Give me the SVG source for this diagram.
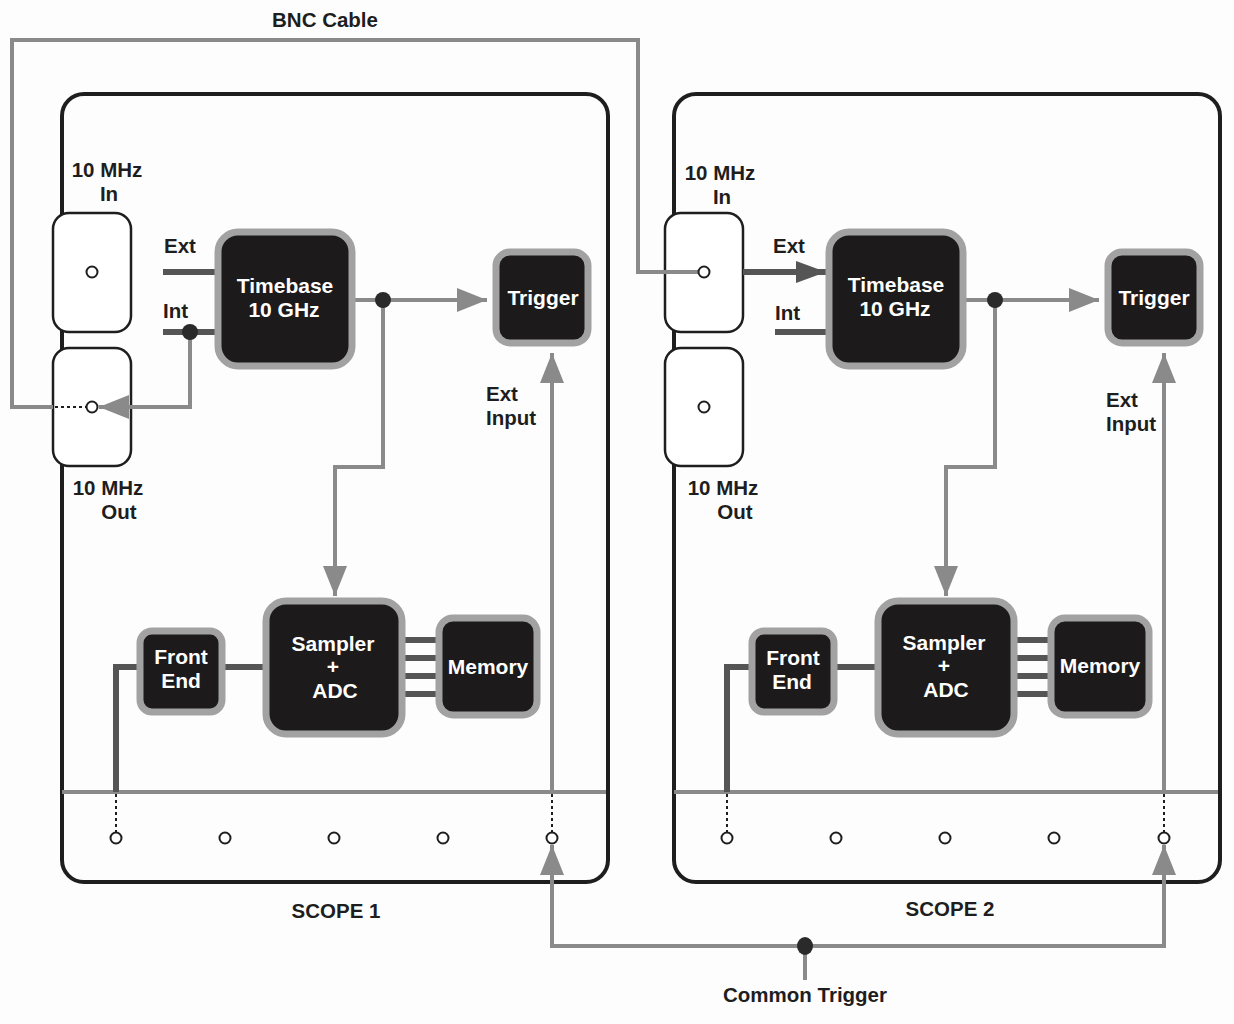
<svg xmlns="http://www.w3.org/2000/svg" width="1234" height="1024" viewBox="0 0 1234 1024">
<style>
.panel{fill:none;stroke:#1e1e1e;stroke-width:4}
.div{stroke:#8a8a8a;stroke-width:4}
.conn{fill:#fff;stroke:#1e1e1e;stroke-width:2.5}
.port{fill:#fff;stroke:#1e1e1e;stroke-width:2}
.blk{fill:#1c1a1b;stroke:#a2a2a2;stroke-width:7}
.g{fill:none;stroke:#8a8a8a;stroke-width:4}
.d{fill:none;stroke:#555;stroke-width:6}
.dot{fill:none;stroke:#1e1e1e;stroke-width:2;stroke-dasharray:3 3}
.lbl{font-family:"Liberation Sans",Arial,sans-serif;font-weight:bold;font-size:20.5px;fill:#1e1e1e}
.wt{font-family:"Liberation Sans",Arial,sans-serif;font-weight:bold;font-size:21px;fill:#fff;text-anchor:middle}
.jn{fill:#2a2a2a}
</style>
<defs>
<marker id="ag" markerUnits="userSpaceOnUse" markerWidth="32" markerHeight="24" refX="30" refY="12" orient="auto"><path d="M0,0 L30,12 L0,24 Z" fill="#8a8a8a"/></marker>
<marker id="ad" markerUnits="userSpaceOnUse" markerWidth="32" markerHeight="24" refX="30" refY="12" orient="auto"><path d="M0,1 L30,12 L0,23 Z" fill="#555"/></marker>
</defs>
<rect width="1234" height="1024" fill="#fdfdfd"/>

<g id="scope1-panel">
<rect class="panel" x="62" y="94" width="546" height="788" rx="22"/>
<line class="div" x1="62" y1="792" x2="606" y2="792"/>
<text class="lbl" x="336" y="918" text-anchor="middle">SCOPE 1</text>
</g>
<g id="scope2-panel">
<rect class="panel" x="674" y="94" width="546" height="788" rx="22"/>
<line class="div" x1="674" y1="792" x2="1218" y2="792"/>
<text class="lbl" x="950" y="916" text-anchor="middle">SCOPE 2</text>
</g>

<g id="scope1-10mhz-in">
<rect class="conn" x="53" y="213" width="78" height="119" rx="16"/>
<text class="lbl" x="107" y="177" text-anchor="middle">10 MHz</text>
<text class="lbl" x="109" y="201" text-anchor="middle">In</text>
</g>
<g id="scope1-10mhz-out">
<rect class="conn" x="53" y="348" width="78" height="118" rx="16"/>
<text class="lbl" x="108" y="495" text-anchor="middle">10 MHz</text>
<text class="lbl" x="119" y="519" text-anchor="middle">Out</text>
</g>
<g id="scope2-10mhz-in">
<rect class="conn" x="665" y="213" width="78" height="119" rx="16"/>
<text class="lbl" x="720" y="180" text-anchor="middle">10 MHz</text>
<text class="lbl" x="722" y="204" text-anchor="middle">In</text>
</g>
<g id="scope2-10mhz-out">
<rect class="conn" x="665" y="348" width="78" height="118" rx="16"/>
<text class="lbl" x="723" y="495" text-anchor="middle">10 MHz</text>
<text class="lbl" x="735" y="519" text-anchor="middle">Out</text>
</g>

<g id="connectors">
<!-- BNC cable -->
<polyline class="g" points="53,407 12,407 12,40 638,40 638,272 699,272"/>
<line class="dot" x1="55" y1="407" x2="86" y2="407"/>
<!-- scope1 timebase to trigger -->
<line class="g" x1="355" y1="300" x2="487" y2="300" marker-end="url(#ag)"/>
<polyline class="g" points="383,300 383,467 335,467 335,596" marker-end="url(#ag)"/>
<!-- scope1 int to 10MHz out -->
<polyline class="g" points="190,332 190,407 99,407" marker-end="url(#ag)"/>
<!-- scope1 ext/int -->
<line class="d" x1="163" y1="272" x2="215" y2="272"/>
<line class="d" x1="163" y1="332" x2="215" y2="332"/>
<!-- scope1 front end path -->
<polyline class="d" points="116,792 116,667 137,667"/>
<line class="d" x1="225" y1="667" x2="263" y2="667"/>
<line class="d" x1="405" y1="640" x2="436" y2="640"/>
<line class="d" x1="405" y1="658" x2="436" y2="658"/>
<line class="d" x1="405" y1="676" x2="436" y2="676"/>
<line class="d" x1="405" y1="694" x2="436" y2="694"/>
<line class="dot" x1="116" y1="794" x2="116" y2="832"/>
<!-- scope1 ext input -->
<line class="g" x1="552" y1="792" x2="552" y2="353" marker-end="url(#ag)"/>
<line class="dot" x1="552" y1="794" x2="552" y2="832"/>

<!-- scope2 -->
<line class="d" x1="743" y1="272" x2="826" y2="272" marker-end="url(#ad)"/>
<line class="d" x1="775" y1="332" x2="826" y2="332"/>
<line class="g" x1="966" y1="300" x2="1099" y2="300" marker-end="url(#ag)"/>
<polyline class="g" points="995,300 995,467 946,467 946,596" marker-end="url(#ag)"/>
<polyline class="d" points="727,792 727,667 749,667"/>
<line class="d" x1="837" y1="667" x2="875" y2="667"/>
<line class="d" x1="1017" y1="640" x2="1048" y2="640"/>
<line class="d" x1="1017" y1="658" x2="1048" y2="658"/>
<line class="d" x1="1017" y1="676" x2="1048" y2="676"/>
<line class="d" x1="1017" y1="694" x2="1048" y2="694"/>
<line class="dot" x1="727" y1="794" x2="727" y2="832"/>
<line class="g" x1="1164" y1="792" x2="1164" y2="353" marker-end="url(#ag)"/>
<line class="dot" x1="1164" y1="794" x2="1164" y2="832"/>

<!-- common trigger -->
<polyline class="g" points="805,980 805,946"/>
<polyline class="g" points="552,846 552,946 1164,946 1164,846"/>
<line class="g" x1="552" y1="946" x2="552" y2="845" marker-end="url(#ag)"/>
<line class="g" x1="1164" y1="946" x2="1164" y2="845" marker-end="url(#ag)"/>
<circle class="jn" cx="383" cy="300" r="8"/>
<circle class="jn" cx="190" cy="332" r="8"/>
<circle class="jn" cx="995" cy="300" r="8"/>
<ellipse class="jn" cx="805" cy="946" rx="8" ry="9"/>
</g>

<g id="bnc-ports">
<circle class="port" cx="92" cy="272" r="5.5"/>
<circle class="port" cx="92" cy="407" r="5.5"/>
<circle class="port" cx="704" cy="272" r="5.5" style="fill:none"/>
<circle class="port" cx="704" cy="407" r="5.5"/>
</g>

<g id="scope1-labels">
<text class="lbl" x="164" y="253">Ext</text>
<text class="lbl" x="163" y="318">Int</text>
<text class="lbl" x="486" y="401">Ext</text>
<text class="lbl" x="486" y="425">Input</text>
</g>
<g id="scope1-timebase">
<rect class="blk" x="218" y="232" width="134" height="134" rx="20"/>
<text class="wt" x="285" y="293">Timebase</text>
<text class="wt" x="284" y="317">10 GHz</text>
</g>
<g id="scope1-trigger">
<rect class="blk" x="496" y="252" width="92" height="91" rx="14"/>
<text class="wt" x="543" y="305">Trigger</text>
</g>
<g id="scope1-sampler">
<rect class="blk" x="266" y="601" width="136" height="133" rx="20"/>
<text class="wt" x="333" y="651">Sampler</text>
<text class="wt" x="333" y="674">+</text>
<text class="wt" x="335" y="698">ADC</text>
</g>
<g id="scope1-memory">
<rect class="blk" x="439" y="618" width="98" height="97" rx="14"/>
<text class="wt" x="488" y="674">Memory</text>
</g>
<g id="scope1-frontend">
<rect class="blk" x="140" y="631" width="82" height="81" rx="12"/>
<text class="wt" x="181" y="664">Front</text>
<text class="wt" x="181" y="688">End</text>
</g>
<g id="scope1-ports">
<circle class="port" cx="116" cy="838" r="5.5"/>
<circle class="port" cx="225" cy="838" r="5.5"/>
<circle class="port" cx="334" cy="838" r="5.5"/>
<circle class="port" cx="443" cy="838" r="5.5"/>
<circle class="port" cx="552" cy="838" r="5.5"/>
</g>

<g id="scope2-labels">
<text class="lbl" x="773" y="253">Ext</text>
<text class="lbl" x="775" y="320">Int</text>
<text class="lbl" x="1106" y="407">Ext</text>
<text class="lbl" x="1106" y="431">Input</text>
</g>
<g id="scope2-timebase">
<rect class="blk" x="829" y="232" width="134" height="134" rx="20"/>
<text class="wt" x="896" y="292">Timebase</text>
<text class="wt" x="895" y="316">10 GHz</text>
</g>
<g id="scope2-trigger">
<rect class="blk" x="1108" y="252" width="92" height="91" rx="14"/>
<text class="wt" x="1154" y="305">Trigger</text>
</g>
<g id="scope2-sampler">
<rect class="blk" x="878" y="601" width="136" height="133" rx="20"/>
<text class="wt" x="944" y="650">Sampler</text>
<text class="wt" x="944" y="673">+</text>
<text class="wt" x="946" y="697">ADC</text>
</g>
<g id="scope2-memory">
<rect class="blk" x="1051" y="618" width="98" height="97" rx="14"/>
<text class="wt" x="1100" y="673">Memory</text>
</g>
<g id="scope2-frontend">
<rect class="blk" x="752" y="631" width="82" height="81" rx="12"/>
<text class="wt" x="793" y="665">Front</text>
<text class="wt" x="792" y="689">End</text>
</g>
<g id="scope2-ports">
<circle class="port" cx="727" cy="838" r="5.5"/>
<circle class="port" cx="836" cy="838" r="5.5"/>
<circle class="port" cx="945" cy="838" r="5.5"/>
<circle class="port" cx="1054" cy="838" r="5.5"/>
<circle class="port" cx="1164" cy="838" r="5.5"/>
</g>

<g id="common-trigger-label">
<text class="lbl" x="805" y="1002" text-anchor="middle">Common Trigger</text>
</g>
<text class="lbl" x="325" y="27" text-anchor="middle">BNC Cable</text>
</svg>
